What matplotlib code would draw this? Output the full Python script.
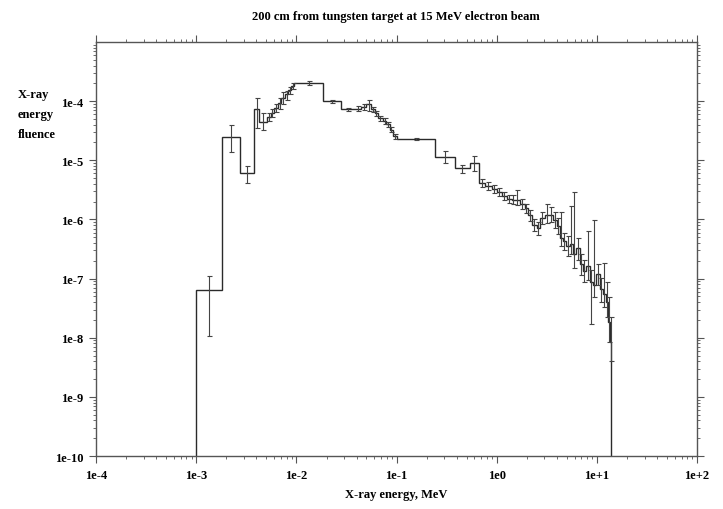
import numpy as np
import matplotlib
matplotlib.use("Agg")
import matplotlib.pyplot as plt
from matplotlib.ticker import LogLocator, FixedLocator, FixedFormatter, NullFormatter

plt.rcParams.update({
    'font.family': 'serif',
    'font.serif': ['Liberation Serif', 'DejaVu Serif'],
    'font.size': 9,
})

# bin edges in MeV
edges = [
    1.0e-3, 1.83e-3, 2.75e-3, 3.8e-3, 4.27e-3, 5.1e-3, 5.56e-3, 6.0e-3, 6.53e-3,
    7.08e-3, 7.67e-3, 8.3e-3, 8.9e-3, 9.55e-3, 1.86e-2, 2.8e-2, 3.8e-2,
    0.0443, 0.0498, 0.0558, 0.0603, 0.065, 0.073, 0.0788, 0.0851, 0.0918, 0.1,
    0.24, 0.38, 0.537, 0.661,
    0.759, 0.891, 1.0, 1.122, 1.259, 1.413, 1.514, 1.698, 1.905, 2.042, 2.239,
    2.512, 2.692, 3.02, 3.311, 3.631, 3.981, 4.266, 4.571, 4.898, 5.37, 5.754,
    6.166, 6.761, 7.244, 7.762, 8.511, 9.12, 9.772, 10.72, 11.48, 12.3, 12.88,
    13.49, 13.96,
]

fluence = [
    6.5e-8, 2.5e-5, 6.1e-6, 7.4e-5, 4.5e-5, 5.4e-5, 6.3e-5, 7.6e-5, 9.3e-5,
    1.12e-4, 1.31e-4, 1.52e-4, 1.78e-4, 2.0e-4, 1.0e-4, 7.3e-5,
    7.5e-5, 8.0e-5, 8.8e-5, 7.3e-5, 6.2e-5, 5.1e-5, 4.6e-5, 4.1e-5, 3.3e-5, 2.55e-5,
    2.3e-5, 1.15e-5, 7.3e-6, 8.9e-6,
    4.1e-6, 3.7e-6, 3.3e-6, 2.9e-6, 2.5e-6, 2.25e-6, 2.15e-6, 2.15e-6, 1.85e-6,
    1.55e-6, 1.17e-6, 7.9e-7, 7.1e-7, 1.04e-6, 1.17e-6, 1.21e-6, 9.6e-7, 7.6e-7,
    4.8e-7, 4.3e-7, 3.55e-7, 3.8e-7, 2.6e-7, 3.3e-7, 1.78e-7, 1.36e-7, 1.65e-7,
    8.6e-8, 7.9e-8, 1.21e-7, 6.6e-8, 5.4e-8, 4.0e-8, 1.85e-8, 8.6e-9,
]

# lower / upper ends of the error bars
flu_lo = [
    1.05e-8, 1.36e-5, 4.1e-6, 3.55e-5, 3.2e-5, 4.6e-5, 5.4e-5, 6.5e-5, 7.5e-5,
    8.8e-5, 1.05e-4, 1.3e-4, 1.6e-4, 1.85e-4, 9.4e-5, 6.9e-5,
    6.8e-5, 7.2e-5, 6.8e-5, 6.6e-5, 5.6e-5, 4.6e-5, 4.15e-5, 3.7e-5, 3.0e-5, 2.3e-5,
    2.2e-5, 9.1e-6, 6.2e-6, 6.6e-6,
    3.5e-6, 3.2e-6, 2.8e-6, 2.5e-6, 2.15e-6, 1.9e-6, 1.8e-6, 1.78e-6, 1.5e-6,
    1.28e-6, 9.3e-7, 6.3e-7, 5.4e-7, 8.25e-7, 8.6e-7, 8.9e-7, 7.1e-7, 5.6e-7,
    3.55e-7, 3.1e-7, 2.4e-7, 2.6e-7, 1.5e-7, 2.1e-7, 1.17e-7, 8.9e-8, 9.6e-8,
    1.73e-8, 4.8e-8, 7.7e-8, 4.0e-8, 3.3e-8, 2.2e-8, 8.6e-9, 4.0e-9,
]

flu_hi = [
    1.1e-7, 4.0e-5, 7.9e-6, 1.12e-4, 6.3e-5, 6.3e-5, 7.4e-5, 8.9e-5, 1.15e-4,
    1.4e-4, 1.5e-4, 1.75e-4, 2.0e-4, 2.15e-4, 1.06e-4, 7.7e-5,
    8.2e-5, 8.8e-5, 1.06e-4, 8.0e-5, 6.8e-5, 5.6e-5, 5.1e-5, 4.5e-5, 3.6e-5, 2.8e-5,
    2.4e-5, 1.45e-5, 8.2e-6, 1.18e-5,
    4.8e-6, 4.3e-6, 3.85e-6, 3.4e-6, 2.9e-6, 2.6e-6, 2.6e-6, 3.1e-6, 2.25e-6,
    1.85e-6, 1.45e-6, 1.0e-6, 8.9e-7, 1.31e-6, 1.85e-6, 1.64e-6, 1.36e-6, 1.04e-6,
    1.36e-6, 5.8e-7, 5.2e-7, 1.7e-6, 2.93e-6, 4.8e-7, 2.6e-7, 2.07e-7, 6.3e-7,
    1.41e-7, 9.6e-7, 1.78e-7, 1.04e-7, 1.85e-7, 8.6e-8, 4.8e-8, 2.2e-8,
]

x_ticks = [1e-4, 1e-3, 1e-2, 1e-1, 1e0, 1e1, 1e2]
x_labels = ['1e-4', '1e-3', '1e-2', '1e-1', '1e0', '1e+1', '1e+2']
y_ticks = [1e-10, 1e-9, 1e-8, 1e-7, 1e-6, 1e-5, 1e-4]
y_labels = ['1e-10', '1e-9', '1e-8', '1e-7', '1e-6', '1e-5', '1e-4']

edges = np.array(edges)
fluence = np.array(fluence)
flu_lo = np.array(flu_lo)
flu_hi = np.array(flu_hi)
centers = np.sqrt(edges[:-1] * edges[1:])

fig = plt.figure(figsize=(7.23, 5.1), dpi=100)
ax = fig.add_axes([0.1328, 0.1039, 0.8313, 0.8118])
ax.set_xscale('log')
ax.set_yscale('log')
ax.set_xlim(1e-4, 1e2)
ax.set_ylim(1e-10, 1e-3)

ax.stairs(fluence, edges, baseline=1e-10, color='#2a2a2a', linewidth=1.0)
ax.errorbar(centers, fluence, yerr=[fluence - flu_lo, flu_hi - fluence],
            fmt='none', ecolor='#444444', elinewidth=0.8, capsize=1.8, capthick=0.8)

for side in ['top', 'right', 'bottom', 'left']:
    ax.spines[side].set_color('#555555')
    ax.spines[side].set_linewidth(1.0)

ax.xaxis.set_major_locator(FixedLocator(x_ticks))
ax.xaxis.set_major_formatter(FixedFormatter(x_labels))
ax.yaxis.set_major_locator(FixedLocator(y_ticks))
ax.yaxis.set_major_formatter(FixedFormatter(y_labels))
ax.xaxis.set_minor_locator(LogLocator(base=10, subs=np.arange(2, 10), numticks=20))
ax.yaxis.set_minor_locator(LogLocator(base=10, subs=np.arange(2, 10), numticks=20))
ax.xaxis.set_minor_formatter(NullFormatter())
ax.yaxis.set_minor_formatter(NullFormatter())
ax.tick_params(which='both', direction='out', top=True, right=True, color='#555555')
ax.tick_params(which='major', length=5, width=0.8, labelsize=9, pad=4)
ax.tick_params(which='minor', length=2.5, width=0.6)
for lbl in ax.get_xticklabels() + ax.get_yticklabels():
    lbl.set_fontweight('bold')

fig.text(0.548, 0.967, '200 cm from tungsten target at 15 MeV electron beam',
         ha='center', va='center', fontsize=9, fontweight='bold')
fig.text(0.548, 1 - 495 / 510, 'X-ray energy, MeV',
         ha='center', va='center', fontsize=9, fontweight='bold')
fig.text(18 / 723, 1 - 89 / 510, 'X-ray\nenergy\nfluence',
         ha='left', va='top', fontsize=9, fontweight='bold', linespacing=1.9)

fig.savefig('out.png', dpi=100)
